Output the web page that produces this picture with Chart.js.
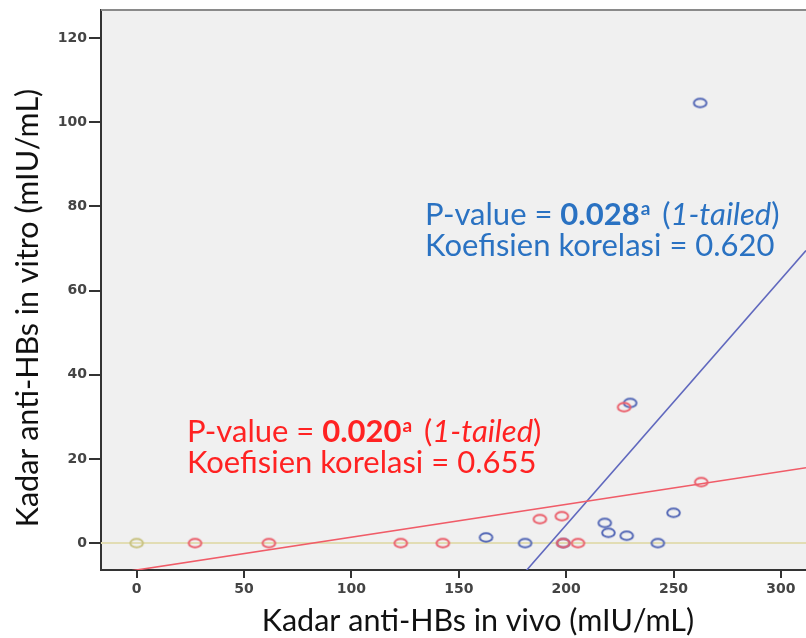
<!DOCTYPE html>
<html>
<head>
<meta charset="utf-8">
<script src="https://cdn.jsdelivr.net/npm/chart.js@4.4.1/dist/chart.umd.min.js"></script>
<style>
  html, body { margin: 0; padding: 0; background: #ffffff; }
  #wrap { width: 806px; height: 638px; position: relative; }
</style>
</head>
<body>
<div id="wrap"><canvas id="chart" width="806" height="638"></canvas></div>
<script>
// Axis extents and tick values
const xMinMax = [-16.6, 311.7];
const yMinMax = [-6.4, 126.7];
const xTickValues = [0, 50, 100, 150, 200, 250, 300];
const yTickValues = [0, 20, 40, 60, 80, 100, 120];

// Group 1 (red): anti-HBs in vivo vs in vitro
const redVivo  = [27.2, 61.6, 123.0, 142.6, 187.8, 198.0, 198.6, 205.5, 227.0, 262.9];
const redVitro = [0,    0,    0,     0,     5.7,   6.4,   0,     0,     32.3,  14.5];

// Group 2 (blue)
const blueVivo  = [162.7, 180.9, 198.7, 218.0, 219.7, 228.2, 242.7, 250.0, 229.8, 262.4];
const blueVitro = [1.35,  0,     0,     4.8,   2.45,  1.75,  0,     7.2,   33.3,  104.6];

// Reference points on the zero line
const zeroVivo  = [0];
const zeroVitro = [0];

// Linear fits: vitro = slope * vivo + intercept
const redFit  = { slope: 0.078, intercept: -6.4 };
const blueFit = { slope: 0.584, intercept: -112.5 };

const toPoints = (xs, ys) => xs.map((x, i) => ({ x: x, y: ys[i] }));
const fitLine = f => xMinMax.map(x => ({ x: x, y: f.slope * x + f.intercept }));

// Open elliptical marker, as drawn by the stats package
function ring(color) {
  const c = document.createElement('canvas');
  c.width = 17; c.height = 13;
  const g = c.getContext('2d');
  g.strokeStyle = color;
  g.lineWidth = 2;
  g.beginPath();
  g.ellipse(8.5, 6.5, 6.3, 4.3, 0, 0, Math.PI * 2);
  g.stroke();
  return c;
}

const RED_PT = 'rgb(234, 96, 108)';
const BLUE_PT = 'rgb(84, 104, 182)';
const OLIVE_PT = 'rgb(200, 194, 128)';

const plotBackground = {
  id: 'plotBackground',
  beforeDraw(chart) {
    const { ctx, chartArea: a } = chart;
    ctx.save();
    ctx.fillStyle = '#f0f0f0';
    ctx.fillRect(a.left, a.top, a.right - a.left, a.bottom - a.top);
    ctx.restore();
  },
  afterDraw(chart) {
    const { ctx, chartArea: a } = chart;
    ctx.save();
    ctx.strokeStyle = '#8a8a8a';
    ctx.lineWidth = 2;
    ctx.beginPath();
    ctx.moveTo(a.left, a.top);
    ctx.lineTo(a.right, a.top);
    ctx.stroke();
    ctx.restore();
  }
};

// Axis titles
const axisTitles = {
  id: 'axisTitles',
  afterDraw(chart) {
    const { ctx } = chart;
    ctx.save();
    ctx.fillStyle = '#111111';
    ctx.font = '30.5px Lato';
    ctx.textBaseline = 'alphabetic';
    ctx.textAlign = 'center';
    ctx.fillText('Kadar anti-HBs in vivo (mIU/mL)', 478, 631);
    ctx.translate(38, 308);
    ctx.rotate(-Math.PI / 2);
    ctx.fillText('Kadar anti-HBs in vitro (mIU/mL)', 0, 0);
    ctx.restore();
  }
};

// Correlation notes, anchored in data coordinates
const notes = [
  { x: 134.3, y: 75.6, color: '#2a72c2', lines: [
      [['P-value = ', ''], ['0.028', 'bold'], ['a', 'sup'], [' (', ''], ['1-tailed', 'italic'], [')', '']],
      [['Koefisien korelasi = 0.620', '']]
  ]},
  { x: 23.4, y: 24.0, color: '#ff2222', lines: [
      [['P-value = ', ''], ['0.020', 'bold'], ['a', 'sup'], [' (', ''], ['1-tailed', 'italic'], [')', '']],
      [['Koefisien korelasi = 0.655', '']]
  ]}
];

const noteText = {
  id: 'noteText',
  afterDatasetsDraw(chart) {
    const { ctx, scales } = chart;
    const size = 31, gap = 31;
    ctx.save();
    ctx.textBaseline = 'alphabetic';
    ctx.textAlign = 'left';
    notes.forEach(n => {
      const left = scales.x.getPixelForValue(n.x);
      const base = scales.y.getPixelForValue(n.y);
      ctx.fillStyle = n.color;
      n.lines.forEach((runs, li) => {
        let cx = left;
        const by = base + li * gap;
        runs.forEach(([t, st]) => {
          let dy = 0;
          if (st === 'bold') ctx.font = 'bold ' + size + 'px Lato';
          else if (st === 'italic') ctx.font = 'italic ' + size + 'px Lato';
          else if (st === 'sup') { ctx.font = 'bold ' + Math.round(size * 0.62) + 'px Lato'; dy = -size * 0.33; }
          else ctx.font = size + 'px Lato';
          ctx.fillText(t, cx + (st === 'sup' ? 1 : 0), by + dy);
          cx += ctx.measureText(t).width + (st === 'sup' ? 5 : 0);
        });
      });
    });
    ctx.restore();
  }
};

const tickFont = { family: 'DejaVu Sans', size: 14, weight: 'bold' };

new Chart(document.getElementById('chart'), {
  type: 'scatter',
  data: {
    datasets: [
      { label: 'zero', data: toPoints(zeroVivo, zeroVitro), pointStyle: ring(OLIVE_PT), pointRadius: 7 },
      { label: 'red', data: toPoints(redVivo, redVitro), pointStyle: ring(RED_PT), pointRadius: 7 },
      { label: 'blue', data: toPoints(blueVivo, blueVitro), pointStyle: ring(BLUE_PT), pointRadius: 7 },
      { label: 'red fit', type: 'line', data: fitLine(redFit), borderColor: 'rgb(240, 92, 104)', borderWidth: 1.6, pointRadius: 0, fill: false },
      { label: 'blue fit', type: 'line', data: fitLine(blueFit), borderColor: 'rgb(96, 104, 190)', borderWidth: 1.6, pointRadius: 0, fill: false },
      { label: 'zero line', type: 'line', data: xMinMax.map(x => ({ x: x, y: 0 })), borderColor: 'rgb(226, 221, 180)', borderWidth: 2, pointRadius: 0, fill: false }
    ]
  },
  options: {
    responsive: false,
    animation: false,
    layout: { autoPadding: false, padding: { top: 10, right: 0, left: 0, bottom: 0 } },
    plugins: { legend: { display: false }, tooltip: { enabled: false } },
    scales: {
      x: {
        type: 'linear', min: xMinMax[0], max: xMinMax[1],
        afterBuildTicks: s => { s.ticks = xTickValues.map(v => ({ value: v })); },
        afterFit: s => { s.height = 68; s.paddingLeft = 0; s.paddingRight = 0; },
        ticks: { font: tickFont, color: '#444444', padding: 3, maxRotation: 0 },
        grid: { drawOnChartArea: false, drawTicks: true, tickLength: 8, color: '#333333', lineWidth: 2 },
        border: { display: true, color: '#333333', width: 2 }
      },
      y: {
        type: 'linear', min: yMinMax[0], max: yMinMax[1],
        afterBuildTicks: s => { s.ticks = yTickValues.map(v => ({ value: v })); },
        afterFit: s => { s.width = 101; s.paddingTop = 0; s.paddingBottom = 0; },
        ticks: { font: tickFont, color: '#444444', padding: 2 },
        grid: { drawOnChartArea: false, drawTicks: true, tickLength: 12, color: '#333333', lineWidth: 2 },
        border: { display: true, color: '#333333', width: 2 }
      }
    }
  },
  plugins: [plotBackground, axisTitles, noteText]
});
</script>
</body>
</html>
